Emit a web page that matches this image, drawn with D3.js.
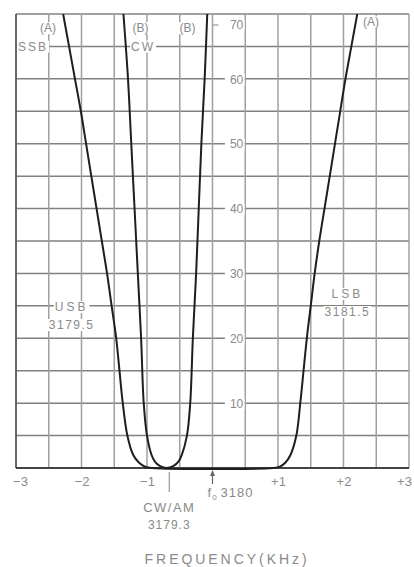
<!DOCTYPE html>
<html>
<head>
<meta charset="utf-8">
<script src="https://cdn.jsdelivr.net/npm/d3@7"></script>
<style>
  body { margin: 0; background: #fff; }
  svg { display: block; font-family: "Liberation Sans", Arial, sans-serif; }
  .grid-h { stroke: #808080; stroke-width: 1.5; }
  .grid-v { stroke: #a0a0a0; stroke-width: 1.5; }
  .curve { fill: none; stroke: #1e1e1e; stroke-width: 2; }
  .lbl { fill: #8a8a8a; font-size: 12px; }
</style>
</head>
<body>
<svg id="chart" width="414" height="567"></svg>
<script>
// filter response, attenuation (dB) against offset from f0 (kHz)

// curve (A) = SSB filter
var ssbFreq  = [-2.28, -2.19, -2.10, -2.01, -1.93, -1.85, -1.77, -1.69, -1.61, -1.54, -1.47, -1.42, -1.37, -1.30, -1.21, -1.12, -1.03, -0.92,
                0.92, 1.03, 1.11, 1.19, 1.28, 1.34, 1.39, 1.44, 1.50, 1.56, 1.63, 1.71, 1.79, 1.87, 1.95, 2.03, 2.12, 2.21];
var ssbLevel = [70, 65, 60, 55, 50, 45, 40, 35, 30, 25, 20, 15, 10, 5, 2, 0.8, 0.2, 0,
                0, 0.2, 0.8, 2, 5, 10, 15, 20, 25, 30, 35, 40, 45, 50, 55, 60, 65, 70];

// curve (B) = CW filter, centre 3179.3
var cwFreq  = [-1.36, -1.29, -1.24, -1.19, -1.14, -1.09, -1.05, -1.00, -0.93, -0.88, -0.80, -0.70,
               -0.60, -0.52, -0.47, -0.39, -0.34, -0.30, -0.25, -0.21, -0.17, -0.12, -0.08];
var cwLevel = [70, 60, 50, 40, 30, 20, 10, 5, 2, 1, 0.3, 0,
               0.3, 1, 2, 5, 10, 20, 30, 40, 50, 60, 70];

var freqTicks  = [-3, -2, -1, 1, 2, 3];
var freqLabels = ["\u22123", "\u22122", "\u22121", "+1", "+2", "+3"];
var levelTicks = [10, 20, 30, 40, 50, 60, 70];

var svg = d3.select("#chart"),
    margin = {top: 14, right: 5, bottom: 99, left: 16},
    width = +svg.attr("width") - margin.left - margin.right,
    height = +svg.attr("height") - margin.top - margin.bottom;

var x = d3.scaleLinear().domain([-3, 3]).range([0, width]),
    y = d3.scaleLinear().domain([0, 70]).range([height, 0]);

var g = svg.append("g")
    .attr("transform", "translate(" + margin.left + "," + margin.top + ")");

// grid
g.selectAll(".grid-h")
    .data(y.ticks(14))
    .enter().append("line")
    .attr("class", "grid-h")
    .attr("x1", 0).attr("x2", width)
    .attr("y1", function (d) { return y(d); })
    .attr("y2", function (d) { return y(d); });

g.selectAll(".grid-v")
    .data(x.ticks(12))
    .enter().append("line")
    .attr("class", "grid-v")
    .attr("x1", function (d) { return x(d); })
    .attr("x2", function (d) { return x(d); })
    .attr("y1", 0).attr("y2", height);

g.append("line")
    .attr("x1", 0).attr("x2", 0).attr("y1", 0).attr("y2", height)
    .attr("stroke", "#555").attr("stroke-width", 1.6);
g.append("line")
    .attr("x1", 0).attr("x2", width).attr("y1", height).attr("y2", height)
    .attr("stroke", "#444").attr("stroke-width", 1.8);

// curves
g.append("clipPath").attr("id", "clip")
    .append("rect").attr("width", width).attr("height", height + 2);

var line = d3.line()
    .x(function (d) { return x(d[0]); })
    .y(function (d) { return y(Math.max(0, d[1])); })
    .curve(d3.curveCatmullRom.alpha(0.5));

g.append("path")
    .datum(d3.zip(ssbFreq, ssbLevel))
    .attr("class", "curve")
    .attr("clip-path", "url(#clip)")
    .attr("d", line);

g.append("path")
    .datum(d3.zip(cwFreq, cwLevel))
    .attr("class", "curve")
    .attr("clip-path", "url(#clip)")
    .attr("d", line);

// labels with white backing so grid lines break around them
function label(px, py, txt, opts) {
    opts = opts || {};
    var t = g.append("text")
        .attr("class", "lbl")
        .attr("x", px).attr("y", py)
        .attr("text-anchor", opts.anchor || "middle")
        .attr("dy", "0.35em")
        .style("letter-spacing", opts.ls || "0px")
        .text(txt);
    if (opts.bg) {
        var b = t.node().getBBox();
        g.insert("rect", function () { return t.node(); })
            .attr("x", b.x - 1).attr("y", b.y + 1)
            .attr("width", b.width + 2).attr("height", b.height - 2)
            .attr("fill", "#fff");
    }
    return t;
}

// level axis sits just left of the +0.5 kHz line
var yAxis = g.append("g")
    .attr("transform", "translate(" + (x(0.5) - 1) + ",0)")
    .call(d3.axisLeft(y).tickValues(levelTicks).tickSize(0).tickPadding(1));
yAxis.select(".domain").remove();
yAxis.selectAll("text")
    .attr("fill", "#8a8a8a")
    .style("font-size", "12px")
    .style("font-family", "Liberation Sans, Arial, sans-serif")
    .attr("dy", function (d) { return d === 70 ? "1.2em" : "0.35em"; });
yAxis.selectAll(".tick").each(function () {
    var txt = d3.select(this).select("text").node();
    var b = txt.getBBox();
    d3.select(this).insert("rect", function () { return txt; })
        .attr("x", b.x - 5).attr("y", b.y + 1)
        .attr("width", b.width + 6).attr("height", b.height - 2)
        .attr("fill", "#fff");
});
g.append("line")
    .attr("x1", x(0)).attr("x2", x(0) + 6)
    .attr("y1", y(70) + 11).attr("y2", y(70) + 11)
    .attr("stroke", "#999").attr("stroke-width", 1.2);

// frequency axis
var xAxis = g.append("g")
    .attr("transform", "translate(0," + height + ")")
    .call(d3.axisBottom(x).tickValues(freqTicks).tickSize(0).tickPadding(9)
        .tickFormat(function (d, i) { return freqLabels[i]; }));
xAxis.select(".domain").remove();
xAxis.selectAll("text")
    .attr("fill", "#8a8a8a")
    .style("font-size", "13px")
    .style("font-family", "Liberation Sans, Arial, sans-serif")
    .attr("dx", function (d) { return d === 3 ? -5 : d === -3 ? 4 : 0; });

// curve annotations
label(x(-2.51), 14, "(A)", {bg: true});
label(x(-2.74), y(65), "SSB", {bg: true, ls: "2px"});
label(x(-1.1), 14, "(B)", {bg: true});
label(x(-1.06), y(65), "CW", {bg: true, ls: "2px"});
label(x(-0.38), 14, "(B)", {bg: true});
label(x(2.42), 8, "(A)", {bg: true});

label(x(-2.15), y(25) + 1, "USB", {bg: true, ls: "3px"});
label(x(-2.15), y(25) + 19, "3179.5", {bg: true, ls: "1.5px"});
label(x(2.06), y(25) - 12, "LSB", {bg: true, ls: "3px"});
label(x(2.06), y(25) + 6, "3181.5", {bg: true, ls: "1.5px"});

// f0 arrow
g.append("line")
    .attr("x1", x(0)).attr("x2", x(0))
    .attr("y1", height + 16).attr("y2", height + 3)
    .attr("stroke", "#666").attr("stroke-width", 1.2);
g.append("path")
    .attr("d", "M" + x(0) + "," + (height + 2) + "l-2.5,6h5z")
    .attr("fill", "#666");
var f0 = g.append("text")
    .attr("class", "lbl")
    .attr("x", x(0) - 5).attr("y", height + 29)
    .style("font-size", "13px")
    .style("letter-spacing", "1px");
f0.append("tspan").text("f");
f0.append("tspan").attr("dy", 3).style("font-size", "8px").text("0");
f0.append("tspan").attr("dy", -3).attr("dx", 3).text("3180");

// CW/AM marker
g.append("line")
    .attr("x1", x(-0.66)).attr("x2", x(-0.66))
    .attr("y1", height + 4).attr("y2", height + 24)
    .attr("stroke", "#999").attr("stroke-width", 1.2);
g.append("text")
    .attr("class", "lbl")
    .attr("x", x(-0.66)).attr("y", height + 44)
    .attr("text-anchor", "middle")
    .style("font-size", "13px")
    .style("letter-spacing", "1.5px")
    .text("CW/AM");
g.append("text")
    .attr("class", "lbl")
    .attr("x", x(-0.66)).attr("y", height + 61)
    .attr("text-anchor", "middle")
    .style("letter-spacing", "1px")
    .text("3179.3");

g.append("text")
    .attr("class", "lbl")
    .attr("x", x(0.2)).attr("y", height + 96)
    .attr("text-anchor", "middle")
    .attr("textLength", 162)
    .attr("lengthAdjust", "spacing")
    .style("font-size", "14px")
    .text("FREQUENCY(KHz)");
</script>
</body>
</html>
